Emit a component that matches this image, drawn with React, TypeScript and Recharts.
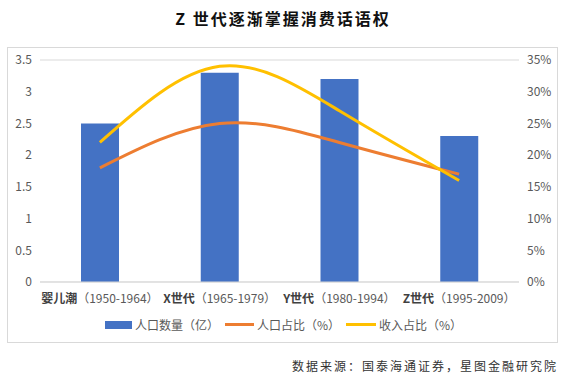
import React from 'react';
import { ComposedChart, Bar, Line, XAxis, YAxis, CartesianGrid } from 'recharts';

// 各代际人口与收入
const generations = ['婴儿潮', 'X世代', 'Y世代', 'Z世代'];
const years = ['（1950-1964）', '（1965-1979）', '（1980-1994）', '（1995-2009）'];
const population = [2.5, 3.3, 3.2, 2.3];
const popShare = [18, 25, 22, 17];
const incomeShare = [22, 34, 27, 16];

const leftTicks = [0, 0.5, 1, 1.5, 2, 2.5, 3, 3.5];
const rightTicks = [0, 5, 10, 15, 20, 25, 30, 35];

const data = generations.map((g, i) => ({
  name: g,
  years: years[i],
  pop: population[i],
  popShare: popShare[i],
  income: incomeShare[i],
}));

const axisColor = '#595959';
const font = '"Noto Sans CJK SC", "Noto Sans", sans-serif';

const GenTick = (props: any) => {
  const { x, y, payload, index } = props;
  return (
    <text x={x} y={y + 13} textAnchor="middle" fontSize={12} fontFamily={font} fill="#404040">
      <tspan fontWeight="bold">{payload.value}</tspan>
      <tspan fill={axisColor}>{years[index]}</tspan>
    </text>
  );
};

const LegendRow = () => (
  <div
    style={{
      position: 'absolute',
      left: 0,
      width: 551,
      top: 268,
      display: 'flex',
      justifyContent: 'center',
      alignItems: 'center',
      fontFamily: font,
      fontSize: 12,
      color: axisColor,
    }}
  >
    <span style={{ display: 'inline-block', width: 27, height: 8, background: '#4472C4', marginRight: 3 }} />
    <span style={{ marginRight: 6 }}>人口数量（亿）</span>
    <span style={{ display: 'inline-block', width: 29, height: 3, background: '#ED7D31', marginRight: 3 }} />
    <span style={{ marginRight: 6 }}>人口占比（%）</span>
    <span style={{ display: 'inline-block', width: 30, height: 3, background: '#FFC000', marginRight: 3 }} />
    <span>收入占比（%）</span>
  </div>
);

export default function App() {
  return (
    <div style={{ position: 'absolute', left: 0, top: 0, width: 566, height: 381, background: '#fff' }}>
      <div
        style={{
          position: 'absolute',
          top: 6,
          width: 566,
          textAlign: 'center',
          fontFamily: '"Noto Sans CJK SC", serif',
          fontWeight: 'bold',
          fontSize: 16,
          letterSpacing: 2,
          color: '#111',
        }}
      >
        Z 世代逐渐掌握消费话语权
      </div>
      <div
        style={{
          position: 'absolute',
          left: 7,
          top: 47,
          width: 551,
          height: 296,
          border: '1px solid #d9d9d9',
          boxSizing: 'border-box',
        }}
      >
        <ComposedChart
          width={549}
          height={294}
          data={data}
          margin={{ top: 12, right: 4, bottom: 30, left: 0 }}
        >
          <CartesianGrid vertical={false} stroke="#d9d9d9" />
          <XAxis
            dataKey="name"
            tick={<GenTick />}
            tickLine={false}
            axisLine={{ stroke: '#d9d9d9' }}
            interval={0}
            height={30}
          />
          <YAxis
            yAxisId="left"
            domain={[0, 3.5]}
            ticks={leftTicks}
            tickLine={false}
            axisLine={false}
            width={32}
            tick={{ fill: axisColor, fontSize: 12, fontFamily: font }}
          />
          <YAxis
            yAxisId="right"
            orientation="right"
            domain={[0, 35]}
            ticks={rightTicks}
            tickFormatter={(v: number) => `${v}%`}
            tickLine={false}
            axisLine={false}
            width={34}
            tick={{ fill: axisColor, fontSize: 12, fontFamily: font }}
          />
          <Bar yAxisId="left" dataKey="pop" fill="#4472C4" barSize={38} isAnimationActive={false} />
          <Line
            yAxisId="right"
            type="natural"
            dataKey="popShare"
            stroke="#ED7D31"
            strokeWidth={3}
            dot={false}
            isAnimationActive={false}
          />
          <Line
            yAxisId="right"
            type="natural"
            dataKey="income"
            stroke="#FFC000"
            strokeWidth={3}
            dot={false}
            isAnimationActive={false}
          />
        </ComposedChart>
        <LegendRow />
      </div>
      <div
        style={{
          position: 'absolute',
          right: 8,
          top: 357,
          fontFamily: '"Noto Sans CJK SC", serif',
          fontSize: 12,
          letterSpacing: 2,
          color: '#333',
        }}
      >
        数据来源：国泰海通证券，星图金融研究院
      </div>
    </div>
  );
}
